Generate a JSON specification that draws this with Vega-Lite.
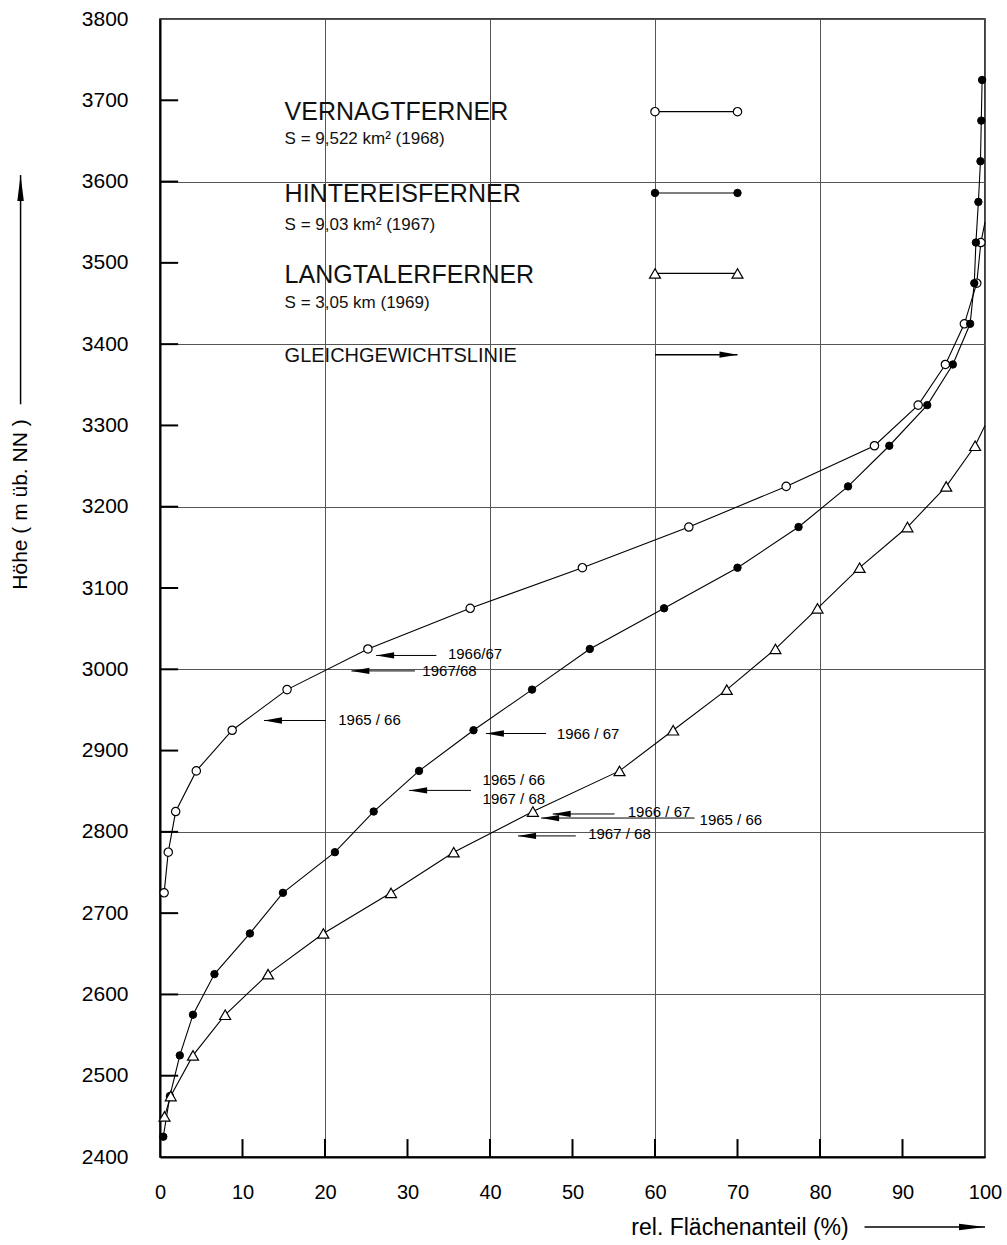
{
  "$schema": "https://vega.github.io/schema/vega-lite/v6.json",
  "width": 825,
  "height": 1138,
  "autosize": {"type": "none"},
  "padding": {"left": 160, "top": 19, "right": 22, "bottom": 88},
  "background": "white",
  "config": {"view": {"stroke": "black", "strokeWidth": 1.5}, "font": "Liberation Sans"},
  "datasets": {
    "curves": [
      {"series": "V", "g": "V", "h": 2725, "p": 0.5, "measured": true},
      {"series": "V", "g": "V", "h": 2775, "p": 1.0, "measured": true},
      {"series": "V", "g": "V", "h": 2825, "p": 1.9, "measured": true},
      {"series": "V", "g": "V", "h": 2875, "p": 4.4, "measured": true},
      {"series": "V", "g": "V", "h": 2925, "p": 8.75, "measured": true},
      {"series": "V", "g": "V", "h": 2975, "p": 15.4, "measured": true},
      {"series": "V", "g": "V", "h": 3025, "p": 25.2, "measured": true},
      {"series": "V", "g": "V", "h": 3075, "p": 37.6, "measured": true},
      {"series": "V", "g": "V", "h": 3125, "p": 51.2, "measured": true},
      {"series": "V", "g": "V", "h": 3175, "p": 64.1, "measured": true},
      {"series": "V", "g": "V", "h": 3225, "p": 75.9, "measured": true},
      {"series": "V", "g": "V", "h": 3275, "p": 86.6, "measured": true},
      {"series": "V", "g": "V", "h": 3325, "p": 91.9, "measured": true},
      {"series": "V", "g": "V", "h": 3375, "p": 95.2, "measured": true},
      {"series": "V", "g": "V", "h": 3425, "p": 97.5, "measured": true},
      {"series": "V", "g": "V", "h": 3475, "p": 99.0, "measured": true},
      {"series": "V", "g": "V", "h": 3525, "p": 99.5, "measured": true},
      {"series": "V", "g": "V", "h": 3550, "p": 100, "measured": false},
      {"series": "H", "g": "H", "h": 2425, "p": 0.4, "measured": true},
      {"series": "H", "g": "H", "h": 2475, "p": 1.2, "measured": true},
      {"series": "H", "g": "H", "h": 2525, "p": 2.4, "measured": true},
      {"series": "H", "g": "H", "h": 2575, "p": 4.0, "measured": true},
      {"series": "H", "g": "H", "h": 2625, "p": 6.6, "measured": true},
      {"series": "H", "g": "H", "h": 2675, "p": 10.9, "measured": true},
      {"series": "H", "g": "H", "h": 2725, "p": 14.9, "measured": true},
      {"series": "H", "g": "H", "h": 2775, "p": 21.2, "measured": true},
      {"series": "H", "g": "H", "h": 2825, "p": 25.9, "measured": true},
      {"series": "H", "g": "H", "h": 2875, "p": 31.4, "measured": true},
      {"series": "H", "g": "H", "h": 2925, "p": 38.0, "measured": true},
      {"series": "H", "g": "H", "h": 2975, "p": 45.1, "measured": true},
      {"series": "H", "g": "H", "h": 3025, "p": 52.1, "measured": true},
      {"series": "H", "g": "H", "h": 3075, "p": 61.1, "measured": true},
      {"series": "H", "g": "H", "h": 3125, "p": 70.0, "measured": true},
      {"series": "H", "g": "H", "h": 3175, "p": 77.4, "measured": true},
      {"series": "H", "g": "H", "h": 3225, "p": 83.4, "measured": true},
      {"series": "H", "g": "H", "h": 3275, "p": 88.4, "measured": true},
      {"series": "H", "g": "H", "h": 3325, "p": 93.0, "measured": true},
      {"series": "H", "g": "H", "h": 3375, "p": 96.1, "measured": true},
      {"series": "H", "g": "H", "h": 3425, "p": 98.2, "measured": true},
      {"series": "H", "g": "H", "h": 3475, "p": 98.7, "measured": true},
      {"series": "H", "g": "H", "h": 3525, "p": 98.9, "measured": true},
      {"series": "H", "g": "H", "h": 3575, "p": 99.2, "measured": true},
      {"series": "H", "g": "H", "h": 3625, "p": 99.45, "measured": true},
      {"series": "H", "g": "H", "h": 3675, "p": 99.55, "measured": true},
      {"series": "H", "g": "H", "h": 3725, "p": 99.65, "measured": true},
      {"series": "L", "g": "L", "h": 2450, "p": 0.55, "measured": true},
      {"series": "L", "g": "L", "h": 2475, "p": 1.3, "measured": true},
      {"series": "L", "g": "L", "h": 2525, "p": 4.0, "measured": true},
      {"series": "L", "g": "L", "h": 2575, "p": 7.9, "measured": true},
      {"series": "L", "g": "L", "h": 2625, "p": 13.1, "measured": true},
      {"series": "L", "g": "L", "h": 2675, "p": 19.8, "measured": true},
      {"series": "L", "g": "L", "h": 2725, "p": 28.0, "measured": true},
      {"series": "L", "g": "L", "h": 2775, "p": 35.6, "measured": true},
      {"series": "L", "g": "L", "h": 2825, "p": 45.2, "measured": true},
      {"series": "L", "g": "L", "h": 2875, "p": 55.7, "measured": true},
      {"series": "L", "g": "L", "h": 2925, "p": 62.2, "measured": true},
      {"series": "L", "g": "L", "h": 2975, "p": 68.7, "measured": true},
      {"series": "L", "g": "L", "h": 3025, "p": 74.6, "measured": true},
      {"series": "L", "g": "L", "h": 3075, "p": 79.7, "measured": true},
      {"series": "L", "g": "L", "h": 3125, "p": 84.8, "measured": true},
      {"series": "L", "g": "L", "h": 3175, "p": 90.6, "measured": true},
      {"series": "L", "g": "L", "h": 3225, "p": 95.3, "measured": true},
      {"series": "L", "g": "L", "h": 3275, "p": 98.8, "measured": true},
      {"series": "L", "g": "L", "h": 3300, "p": 100, "measured": false},
      {"series": "V-legend", "g": "V", "h": 3686, "p": 60, "measured": true},
      {"series": "V-legend", "g": "V", "h": 3686, "p": 70, "measured": true},
      {"series": "H-legend", "g": "H", "h": 3586, "p": 60, "measured": true},
      {"series": "H-legend", "g": "H", "h": 3586, "p": 70, "measured": true},
      {"series": "L-legend", "g": "L", "h": 3487, "p": 60, "measured": true},
      {"series": "L-legend", "g": "L", "h": 3487, "p": 70, "measured": true}
    ],
    "arrows": [
      {"g": "V", "year": "1966/67", "p": 26.2, "p2": 33.5, "h": 3017},
      {"g": "V", "year": "1967/68", "p": 23.2, "p2": 30.9, "h": 2998},
      {"g": "V", "year": "1965/66", "p": 12.6, "p2": 20.1, "h": 2937},
      {"g": "H", "year": "1966/67", "p": 39.5, "p2": 46.8, "h": 2921},
      {"g": "H", "year": "1965/66 1967/68", "p": 30.2, "p2": 37.7, "h": 2851},
      {"g": "L", "year": "1966/67", "p": 47.6, "p2": 55.1, "h": 2822},
      {"g": "L", "year": "1965/66", "p": 46.2, "p2": 64.8, "h": 2817},
      {"g": "L", "year": "1967/68", "p": 43.4, "p2": 50.4, "h": 2795}
    ],
    "arrowLabels": [
      {"text": "1966/67", "p": 34.9, "h": 3019},
      {"text": "1967/68", "p": 31.8, "h": 2998},
      {"text": "1965 / 66", "p": 21.6, "h": 2937},
      {"text": "1966 / 67", "p": 48.1, "h": 2921},
      {"text": "1965 / 66", "p": 39.1, "h": 2864},
      {"text": "1967 / 68", "p": 39.1, "h": 2841},
      {"text": "1966 / 67", "p": 56.7, "h": 2825},
      {"text": "1965 / 66", "p": 65.4, "h": 2815},
      {"text": "1967 / 68", "p": 51.9, "h": 2797}
    ],
    "legendText": [
      {"kind": "name", "text": "VERNAGTFERNER", "p": 15.1, "h": 3676},
      {"kind": "area", "text": "S = 9,522 km² (1968)", "p": 15.1, "h": 3646},
      {"kind": "name", "text": "HINTEREISFERNER", "p": 15.1, "h": 3575},
      {"kind": "area", "text": "S = 9,03 km² (1967)", "p": 15.1, "h": 3540},
      {"kind": "name", "text": "LANGTALERFERNER", "p": 15.1, "h": 3475},
      {"kind": "area", "text": "S = 3,05 km (1969)", "p": 15.1, "h": 3444},
      {"kind": "ela", "text": "GLEICHGEWICHTSLINIE", "p": 15.1, "h": 3378}
    ],
    "segments": [
      {"what": "legend arrow", "p": 60, "p2": 70, "h": 3387, "h2": 3387},
      {"what": "y title arrow", "p": -16.9, "p2": -16.9, "h": 3326, "h2": 3608},
      {"what": "x title arrow", "p": 85.4, "p2": 100, "h": 2314, "h2": 2314}
    ],
    "ticks": [
      {"p": 10, "p2": 10, "h": 2400, "h2": 2422},
      {"p": 20, "p2": 20, "h": 2400, "h2": 2422},
      {"p": 30, "p2": 30, "h": 2400, "h2": 2422},
      {"p": 40, "p2": 40, "h": 2400, "h2": 2422},
      {"p": 50, "p2": 50, "h": 2400, "h2": 2422},
      {"p": 60, "p2": 60, "h": 2400, "h2": 2422},
      {"p": 70, "p2": 70, "h": 2400, "h2": 2422},
      {"p": 80, "p2": 80, "h": 2400, "h2": 2422},
      {"p": 90, "p2": 90, "h": 2400, "h2": 2422},
      {"p": 0, "p2": 2.2, "h": 2500, "h2": 2500},
      {"p": 0, "p2": 2.2, "h": 2600, "h2": 2600},
      {"p": 0, "p2": 2.2, "h": 2700, "h2": 2700},
      {"p": 0, "p2": 2.2, "h": 2800, "h2": 2800},
      {"p": 0, "p2": 2.2, "h": 2900, "h2": 2900},
      {"p": 0, "p2": 2.2, "h": 3000, "h2": 3000},
      {"p": 0, "p2": 2.2, "h": 3100, "h2": 3100},
      {"p": 0, "p2": 2.2, "h": 3200, "h2": 3200},
      {"p": 0, "p2": 2.2, "h": 3300, "h2": 3300},
      {"p": 0, "p2": 2.2, "h": 3400, "h2": 3400},
      {"p": 0, "p2": 2.2, "h": 3500, "h2": 3500},
      {"p": 0, "p2": 2.2, "h": 3600, "h2": 3600},
      {"p": 0, "p2": 2.2, "h": 3700, "h2": 3700}
    ],
    "legendArrowHead": [{"p": 70, "h": 3387}],
    "yArrowHead": [{"p": -16.9, "h": 3608}],
    "xArrowHead": [{"p": 100, "h": 2314}]
  },
  "layer": [
    {
      "data": {"name": "curves"},
      "mark": {"type": "line", "color": "black", "strokeWidth": 1.1},
      "encoding": {
        "x": {
          "field": "p", "type": "quantitative",
          "scale": {"domain": [0, 100], "nice": false, "zero": false},
          "axis": {
            "values": [0, 10, 20, 30, 40, 50, 60, 70, 80, 90, 100],
            "format": "d",
            "title": "rel. Flächenanteil (%)",
            "ticks": false,
            "labelPadding": 25, "labelFontSize": 20, "labelColor": "black", "labelFont": "Liberation Sans",
            "labelFlush": false, "labelOverlap": false,
            "domainColor": "black", "domainWidth": 2,
            "grid": true, "gridColor": "#555555", "gridWidth": 1,
            "gridOpacity": {"condition": {"test": "datum.value % 20 !== 0", "value": 0}, "value": 1},
            "titleFontSize": 23, "titleFont": "Liberation Sans", "titleFontWeight": "normal", "titleColor": "black",
            "titleX": 579.5, "titleY": 70, "titleAlign": "center", "titleBaseline": "middle"
          }
        },
        "y": {
          "field": "h", "type": "quantitative",
          "scale": {"domain": [2400, 3800], "nice": false, "zero": false},
          "axis": {
            "values": [2400, 2500, 2600, 2700, 2800, 2900, 3000, 3100, 3200, 3300, 3400, 3500, 3600, 3700, 3800],
            "format": "d",
            "title": "Höhe ( m üb. NN )",
            "ticks": false,
            "labelPadding": 32, "labelFontSize": 21, "labelColor": "black", "labelFont": "Liberation Sans",
            "labelFlush": false, "labelOverlap": false,
            "domainColor": "black", "domainWidth": 2,
            "grid": true, "gridColor": "#555555", "gridWidth": 1,
            "gridOpacity": {"condition": {"test": "datum.value % 200 !== 0", "value": 0}, "value": 1},
            "titleFontSize": 21, "titleFont": "Liberation Sans", "titleFontWeight": "normal", "titleColor": "black",
            "titleAngle": -90, "titleX": -139.5, "titleY": 485, "titleAlign": "center", "titleBaseline": "middle"
          }
        },
        "detail": {"field": "series"},
        "order": {"field": "h", "type": "quantitative"}
      }
    },
    {
      "data": {"name": "ticks"},
      "mark": {"type": "rule", "color": "black", "strokeWidth": 2},
      "encoding": {
        "x": {"field": "p", "type": "quantitative"}, "x2": {"field": "p2"},
        "y": {"field": "h", "type": "quantitative"}, "y2": {"field": "h2"}
      }
    },
    {
      "data": {"name": "segments"},
      "mark": {"type": "rule", "color": "black", "strokeWidth": 1.5},
      "encoding": {
        "x": {"field": "p", "type": "quantitative"}, "x2": {"field": "p2"},
        "y": {"field": "h", "type": "quantitative"}, "y2": {"field": "h2"}
      }
    },
    {
      "data": {"name": "curves"},
      "transform": [{"filter": "datum.g === 'V' && datum.measured"}],
      "mark": {"type": "point", "shape": "circle", "filled": true, "fill": "white", "stroke": "black", "strokeWidth": 1.2, "size": 70, "opacity": 1},
      "encoding": {"x": {"field": "p", "type": "quantitative"}, "y": {"field": "h", "type": "quantitative"}}
    },
    {
      "data": {"name": "curves"},
      "transform": [{"filter": "datum.g === 'H' && datum.measured"}],
      "mark": {"type": "point", "shape": "circle", "filled": true, "fill": "black", "stroke": "black", "strokeWidth": 1, "size": 55, "opacity": 1},
      "encoding": {"x": {"field": "p", "type": "quantitative"}, "y": {"field": "h", "type": "quantitative"}}
    },
    {
      "data": {"name": "curves"},
      "transform": [{"filter": "datum.g === 'L' && datum.measured"}],
      "mark": {"type": "point", "shape": "triangle-up", "filled": true, "fill": "white", "stroke": "black", "strokeWidth": 1.2, "size": 120, "opacity": 1},
      "encoding": {"x": {"field": "p", "type": "quantitative"}, "y": {"field": "h", "type": "quantitative"}}
    },
    {
      "data": {"name": "arrows"},
      "mark": {"type": "rule", "color": "black", "strokeWidth": 1},
      "encoding": {"x": {"field": "p", "type": "quantitative"}, "x2": {"field": "p2"}, "y": {"field": "h", "type": "quantitative"}}
    },
    {
      "data": {"name": "arrows"},
      "mark": {"type": "point", "shape": "M 0 0 L 2 -0.35 L 2 0.35 Z", "filled": true, "color": "black", "size": 324, "opacity": 1},
      "encoding": {"x": {"field": "p", "type": "quantitative"}, "y": {"field": "h", "type": "quantitative"}}
    },
    {
      "data": {"name": "arrowLabels"},
      "mark": {"type": "text", "align": "left", "baseline": "middle", "fontSize": 15, "font": "Liberation Sans", "color": "black"},
      "encoding": {"x": {"field": "p", "type": "quantitative"}, "y": {"field": "h", "type": "quantitative"}, "text": {"field": "text"}}
    },
    {
      "data": {"name": "legendText"},
      "transform": [{"filter": "datum.kind === 'name'"}],
      "mark": {"type": "text", "align": "left", "baseline": "alphabetic", "fontSize": 25, "font": "Liberation Sans", "color": "#111111"},
      "encoding": {"x": {"field": "p", "type": "quantitative"}, "y": {"field": "h", "type": "quantitative"}, "text": {"field": "text"}}
    },
    {
      "data": {"name": "legendText"},
      "transform": [{"filter": "datum.kind === 'area'"}],
      "mark": {"type": "text", "align": "left", "baseline": "alphabetic", "fontSize": 17, "font": "Liberation Sans", "color": "#111111"},
      "encoding": {"x": {"field": "p", "type": "quantitative"}, "y": {"field": "h", "type": "quantitative"}, "text": {"field": "text"}}
    },
    {
      "data": {"name": "legendText"},
      "transform": [{"filter": "datum.kind === 'ela'"}],
      "mark": {"type": "text", "align": "left", "baseline": "alphabetic", "fontSize": 20, "font": "Liberation Sans", "color": "#111111"},
      "encoding": {"x": {"field": "p", "type": "quantitative"}, "y": {"field": "h", "type": "quantitative"}, "text": {"field": "text"}}
    },
    {
      "data": {"name": "legendArrowHead"},
      "mark": {"type": "point", "shape": "M 0 0 L -2 -0.35 L -2 0.35 Z", "filled": true, "color": "black", "size": 324, "opacity": 1},
      "encoding": {"x": {"field": "p", "type": "quantitative"}, "y": {"field": "h", "type": "quantitative"}}
    },
    {
      "data": {"name": "yArrowHead"},
      "mark": {"type": "point", "shape": "M 0 0 L -0.25 2 L 0.25 2 Z", "filled": true, "color": "black", "size": 676, "opacity": 1},
      "encoding": {"x": {"field": "p", "type": "quantitative"}, "y": {"field": "h", "type": "quantitative"}}
    },
    {
      "data": {"name": "xArrowHead"},
      "mark": {"type": "point", "shape": "M 0 0 L -2 -0.25 L -2 0.25 Z", "filled": true, "color": "black", "size": 676, "opacity": 1},
      "encoding": {"x": {"field": "p", "type": "quantitative"}, "y": {"field": "h", "type": "quantitative"}}
    }
  ]
}
